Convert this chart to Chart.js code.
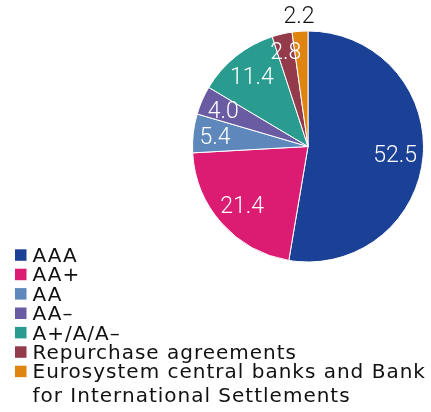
<!DOCTYPE html>
<html>
<head>
<meta charset="utf-8">
<script src="https://cdn.jsdelivr.net/npm/chart.js@4/dist/chart.umd.min.js"></script>
<style>
  html, body { margin: 0; padding: 0; background: #fff; }
  #wrap { position: relative; width: 431px; height: 412px; }
</style>
</head>
<body>
<div id="wrap"><canvas id="chart" width="431" height="412"></canvas></div>
<script>
// Collateral breakdown by rating / type (percentages)
const categories = [
  'AAA',
  'AA+',
  'AA',
  'AA\u2013',
  'A+/A/A\u2013',
  'Repurchase agreements',
  ['Eurosystem central banks and Bank', 'for International Settlements']
];
const values = [52.5, 21.4, 5.4, 4.0, 11.4, 2.8, 2.2];
const colors = ['#1a4195', '#dc1b73', '#5e88bb', '#6a5ca3', '#2a9c8f', '#933a4b', '#df850f'];

const LABEL_FONT = 'Roboto, "DejaVu Sans", sans-serif';
const LEGEND_FONT = '"DejaVu Sans", "Open Sans", sans-serif';
const total = values.reduce((a, b) => a + b, 0);

// Value labels: tucked inside the slice edge, or just outside for very thin slices
const sliceLabels = {
  id: 'sliceLabels',
  afterDatasetsDraw(chart) {
    const ctx = chart.ctx;
    const meta = chart.getDatasetMeta(0);
    const size = 23;
    const halfCap = size * 0.711 / 2;
    ctx.save();
    ctx.font = '300 ' + size + 'px ' + LABEL_FONT;
    ctx.textAlign = 'center';
    ctx.textBaseline = 'alphabetic';
    meta.data.forEach((arc, i) => {
      const p = arc.getProps(['x', 'y', 'startAngle', 'endAngle', 'outerRadius'], true);
      const mid = (p.startAngle + p.endAngle) / 2;
      const text = values[i].toFixed(1);
      const halfW = ctx.measureText(text).width / 2;
      const extent = Math.abs(Math.cos(mid)) * halfW + Math.abs(Math.sin(mid)) * halfCap;
      const outside = values[i] / total < 0.025;
      const r = outside ? p.outerRadius + 16 : p.outerRadius - 5.5 - extent;
      ctx.fillStyle = outside ? '#111' : '#fff';
      ctx.fillText(text, p.x + Math.cos(mid) * r, p.y + Math.sin(mid) * r + halfCap);
    });
    ctx.restore();
  }
};

// Stacked legend below the pie, one entry per line
const stackedLegend = {
  id: 'stackedLegend',
  afterDraw(chart) {
    const ctx = chart.ctx;
    ctx.save();
    ctx.font = '400 20px ' + LEGEND_FONT;
    ctx.letterSpacing = '1px';
    ctx.textAlign = 'left';
    ctx.textBaseline = 'alphabetic';
    const x0 = 15, box = 11.5, textX = 32.5, firstBase = 262, step = 19.4, wrapStep = 24;
    categories.forEach((label, i) => {
      const base = firstBase + i * step;
      ctx.fillStyle = colors[i];
      ctx.fillRect(x0, base - 12.7, box, box);
      ctx.fillStyle = '#111';
      const lines = Array.isArray(label) ? label : [label];
      lines.forEach((line, j) => ctx.fillText(line, textX, base + j * wrapStep));
    });
    ctx.restore();
  }
};

new Chart(document.getElementById('chart'), {
  type: 'pie',
  data: {
    labels: categories,
    datasets: [{
      data: values,
      backgroundColor: colors,
      borderColor: '#ffffff',
      borderWidth: 1
    }]
  },
  options: {
    responsive: false,
    animation: false,
    layout: { padding: { left: 192, right: 7, top: 30, bottom: 149 } },
    plugins: {
      legend: { display: false },
      tooltip: { enabled: false }
    }
  },
  plugins: [sliceLabels, stackedLegend]
});
</script>
</body>
</html>
